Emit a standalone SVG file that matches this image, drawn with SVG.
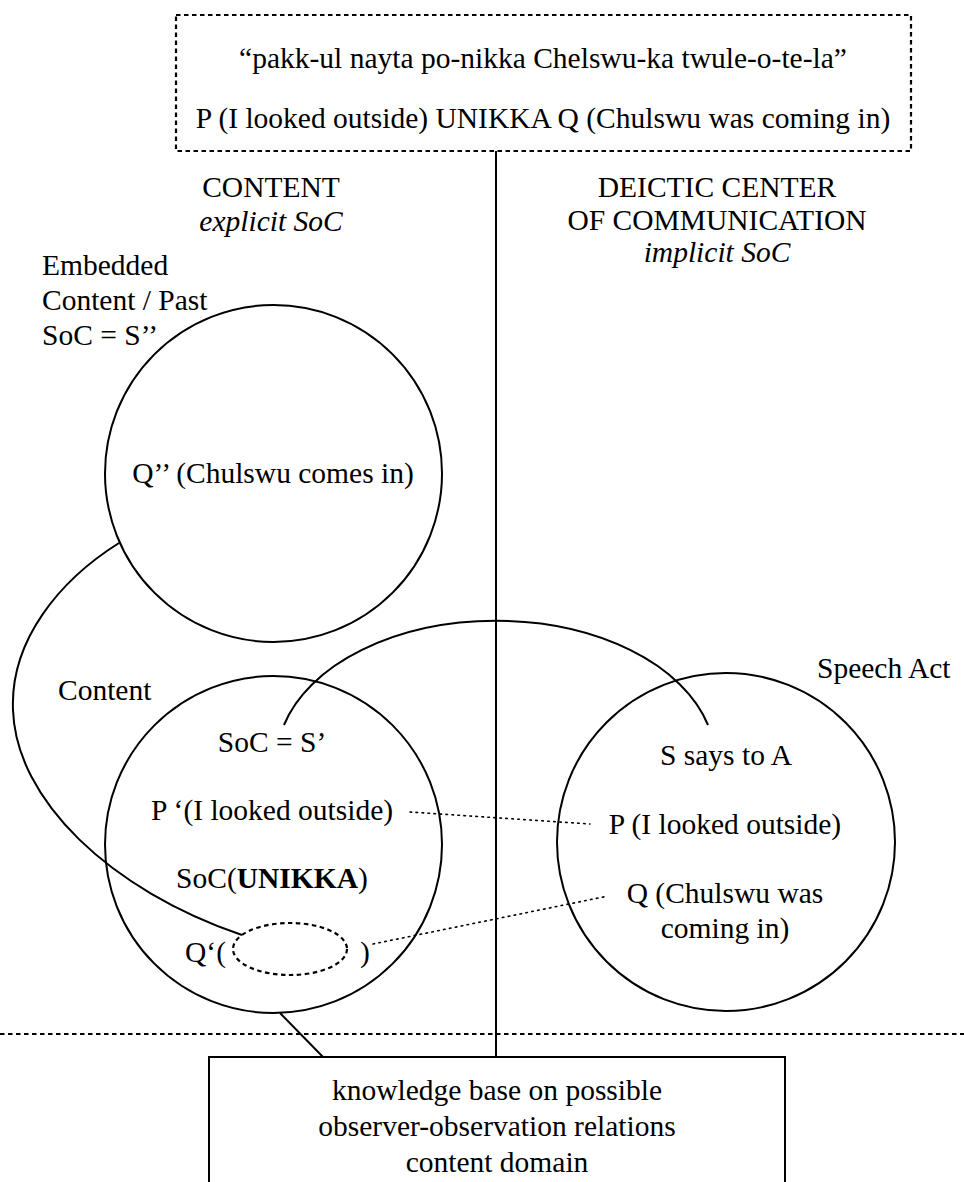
<svg xmlns="http://www.w3.org/2000/svg" width="964" height="1182" viewBox="0 0 964 1182">
<style>
text{font-family:"Liberation Serif","Times New Roman",serif;font-size:29.5px;fill:#000}
.c{text-anchor:middle}
.i{font-style:italic}
.s{fill:none;stroke:#000;stroke-width:2}
.dash{fill:none;stroke:#000;stroke-width:2.2;stroke-dasharray:4.5 3.5}
.dot{fill:none;stroke:#000;stroke-width:1.6;stroke-dasharray:1.6 4.4;stroke-linecap:round}
</style>
<rect width="964" height="1182" fill="#fff"/>
<g id="connectors">
<line class="s" x1="496" y1="151" x2="496" y2="1057"/>
<line class="dash" x1="0" y1="1034" x2="964" y2="1034"/>
<path class="s" d="M119,543 C60,580 10,640 13,710 C16,800 110,890 242,935"/>
<path class="s" d="M284,725 A219,139 0 0 1 708,725"/>
<line class="s" x1="280" y1="1013" x2="323" y2="1057"/>
<line class="dot" x1="410" y1="812" x2="590" y2="824"/>
<line class="dot" x1="373" y1="944" x2="608" y2="896"/>
</g>
<g id="sentence-box">
<rect class="dash" x="176" y="15" width="735" height="136" fill="#fff"/>
<text class="c" x="543" y="68">“pakk-ul nayta po-nikka Chelswu-ka twule-o-te-la”</text>
<text class="c" x="543" y="128">P (I looked outside) UNIKKA Q (Chulswu was coming in)</text>
</g>
<g id="content-heading">
<text class="c" x="271" y="197">CONTENT</text>
<text class="c i" x="271" y="231">explicit SoC</text>
</g>
<g id="deictic-heading">
<text class="c" x="717" y="197">DEICTIC CENTER</text>
<text class="c" x="717" y="230">OF COMMUNICATION</text>
<text class="c i" x="717" y="262">implicit SoC</text>
</g>
<g id="embedded-content">
<text x="42" y="275">Embedded</text>
<text x="42" y="310">Content / Past</text>
<text x="42" y="345">SoC = S’’</text>
<circle class="s" cx="273.5" cy="473.5" r="168.5"/>
<text class="c" x="273" y="483">Q’’ (Chulswu comes in)</text>
</g>
<g id="content">
<text x="58" y="700">Content</text>
<circle class="s" cx="273.5" cy="844.5" r="168.5"/>
<text class="c" x="272" y="752">SoC = S’</text>
<text class="c" x="272" y="820">P ‘(I looked outside)</text>
<text class="c" x="272" y="888">SoC(<tspan font-weight="bold">UNIKKA</tspan>)</text>
<text x="185" y="962">Q‘(</text>
<ellipse class="dash" cx="290" cy="949" rx="57" ry="26"/>
<text x="360" y="962">)</text>
</g>
<g id="speech-act">
<text x="817" y="678">Speech Act</text>
<circle class="s" cx="726" cy="842" r="169"/>
<text class="c" x="726" y="765">S says to A</text>
<text class="c" x="725" y="834">P (I looked outside)</text>
<text class="c" x="725" y="903">Q (Chulswu was</text>
<text class="c" x="725" y="938">coming in)</text>
</g>
<g id="knowledge-base">
<rect class="s" x="209" y="1057" width="576" height="140" fill="#fff"/>
<text class="c" x="497" y="1100">knowledge base on possible</text>
<text class="c" x="497" y="1136">observer-observation relations</text>
<text class="c" x="497" y="1172">content domain</text>
</g>
</svg>
